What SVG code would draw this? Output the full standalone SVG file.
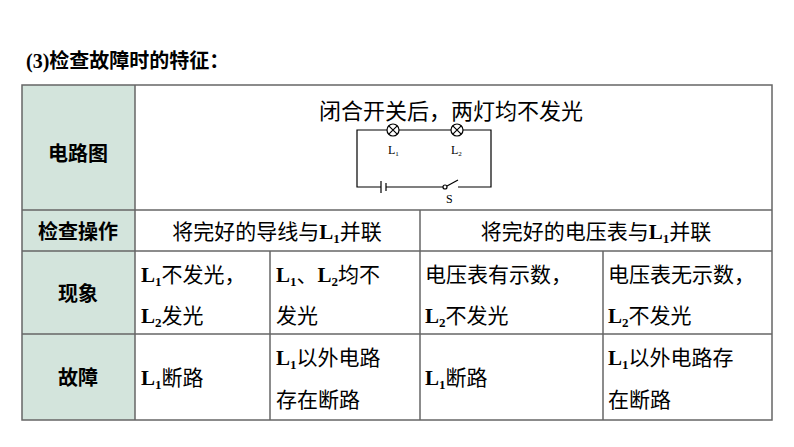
<svg xmlns="http://www.w3.org/2000/svg" width="794" height="447" viewBox="0 0 794 447">
<style>
.h{fill:#d3e4dc}
.g{stroke:#666;stroke-width:1.5;fill:none}
.c{stroke:#000;stroke-width:1.2;fill:none}
text{font-family:"Noto Sans CJK SC",sans-serif;font-size:21px;fill:#000}
.b{font-weight:bold;font-size:20px}
.s{font-family:"Liberation Serif",serif;font-size:12px}
.l{font-family:"Liberation Serif",serif;font-weight:bold}
.sub{font-family:"Liberation Serif",serif;font-weight:bold;font-size:13px}
</style>
<rect width="794" height="447" fill="#fff"/>
<text x="26" y="68" style="font-size:20px;font-weight:bold"><tspan font-family="Liberation Serif" font-weight="bold">(3)</tspan>检查故障时的特征：</text>
<g id="table">
<rect class="h" x="22" y="85" width="113" height="335"/>
<rect class="g" x="22" y="85" width="750" height="335"/>
<line class="g" x1="135" y1="85" x2="135" y2="420"/>
<line class="g" x1="22" y1="210" x2="772" y2="210"/>
<line class="g" x1="22" y1="251" x2="772" y2="251"/>
<line class="g" x1="22" y1="334" x2="772" y2="334"/>
<line class="g" x1="420" y1="210" x2="420" y2="420"/>
<line class="g" x1="270" y1="251" x2="270" y2="420"/>
<line class="g" x1="603" y1="251" x2="603" y2="420"/>
</g>
<g id="hdr1"><text x="78" y="161" text-anchor="middle" class="b">电路图</text></g>
<g id="hdr2"><text x="78" y="239" text-anchor="middle" class="b">检查操作</text></g>
<g id="hdr3"><text x="78" y="301" text-anchor="middle" class="b">现象</text></g>
<g id="hdr4"><text x="78" y="385" text-anchor="middle" class="b">故障</text></g>
<g id="circuit">
<text x="451" y="119" text-anchor="middle" style="font-size:22px">闭合开关后，两灯均不发光</text>
<path class="c" d="M387,130 H357 V187 H381 M386,187 H443 M458,187 H491 V130 H463 M399,130 H451"/>
<line class="c" x1="381" y1="181" x2="381" y2="193"/>
<line class="c" x1="386" y1="183" x2="386" y2="191" stroke-width="2"/>
<circle class="c" cx="445" cy="187" r="2"/>
<line class="c" x1="447" y1="186" x2="458" y2="180"/>
<circle class="c" cx="393" cy="130" r="6"/>
<path class="c" d="M388.8,125.8 L397.2,134.2 M397.2,125.8 L388.8,134.2"/>
<circle class="c" cx="457" cy="130" r="6"/>
<path class="c" d="M452.8,125.8 L461.2,134.2 M461.2,125.8 L452.8,134.2"/>
<text x="388" y="154" class="s">L<tspan font-size="7" dy="2">1</tspan></text>
<text x="451" y="154" class="s">L<tspan font-size="7" dy="2">2</tspan></text>
<text x="446" y="203" class="s">S</text>
</g>
<g id="op1"><text x="277" y="239" text-anchor="middle">将完好的导线与<tspan class="l">L</tspan><tspan class="sub" dy="4">1</tspan><tspan dy="-4">并联</tspan></text></g>
<g id="op2"><text x="596" y="239" text-anchor="middle">将完好的电压表与<tspan class="l">L</tspan><tspan class="sub" dy="4">1</tspan><tspan dy="-4">并联</tspan></text></g>
<g id="p1"><text x="141" y="282"><tspan class="l">L</tspan><tspan class="sub" dy="4">1</tspan><tspan dy="-4">不发光，</tspan></text>
<text x="141" y="323"><tspan class="l">L</tspan><tspan class="sub" dy="4">2</tspan><tspan dy="-4">发光</tspan></text></g>
<g id="p2"><text x="276" y="282"><tspan class="l">L</tspan><tspan class="sub" dy="4">1</tspan><tspan dy="-4">、</tspan><tspan class="l">L</tspan><tspan class="sub" dy="4">2</tspan><tspan dy="-4">均不</tspan></text>
<text x="276" y="323">发光</text></g>
<g id="p3"><text x="425" y="282">电压表有示数，</text>
<text x="425" y="323"><tspan class="l">L</tspan><tspan class="sub" dy="4">2</tspan><tspan dy="-4">不发光</tspan></text></g>
<g id="p4"><text x="608" y="282">电压表无示数，</text>
<text x="608" y="323"><tspan class="l">L</tspan><tspan class="sub" dy="4">2</tspan><tspan dy="-4">不发光</tspan></text></g>
<g id="f1"><text x="141" y="385"><tspan class="l">L</tspan><tspan class="sub" dy="4">1</tspan><tspan dy="-4">断路</tspan></text></g>
<g id="f2"><text x="276" y="365"><tspan class="l">L</tspan><tspan class="sub" dy="4">1</tspan><tspan dy="-4">以外电路</tspan></text>
<text x="276" y="407">存在断路</text></g>
<g id="f3"><text x="425" y="385"><tspan class="l">L</tspan><tspan class="sub" dy="4">1</tspan><tspan dy="-4">断路</tspan></text></g>
<g id="f4"><text x="608" y="365"><tspan class="l">L</tspan><tspan class="sub" dy="4">1</tspan><tspan dy="-4">以外电路存</tspan></text>
<text x="608" y="407">在断路</text></g>
</svg>
